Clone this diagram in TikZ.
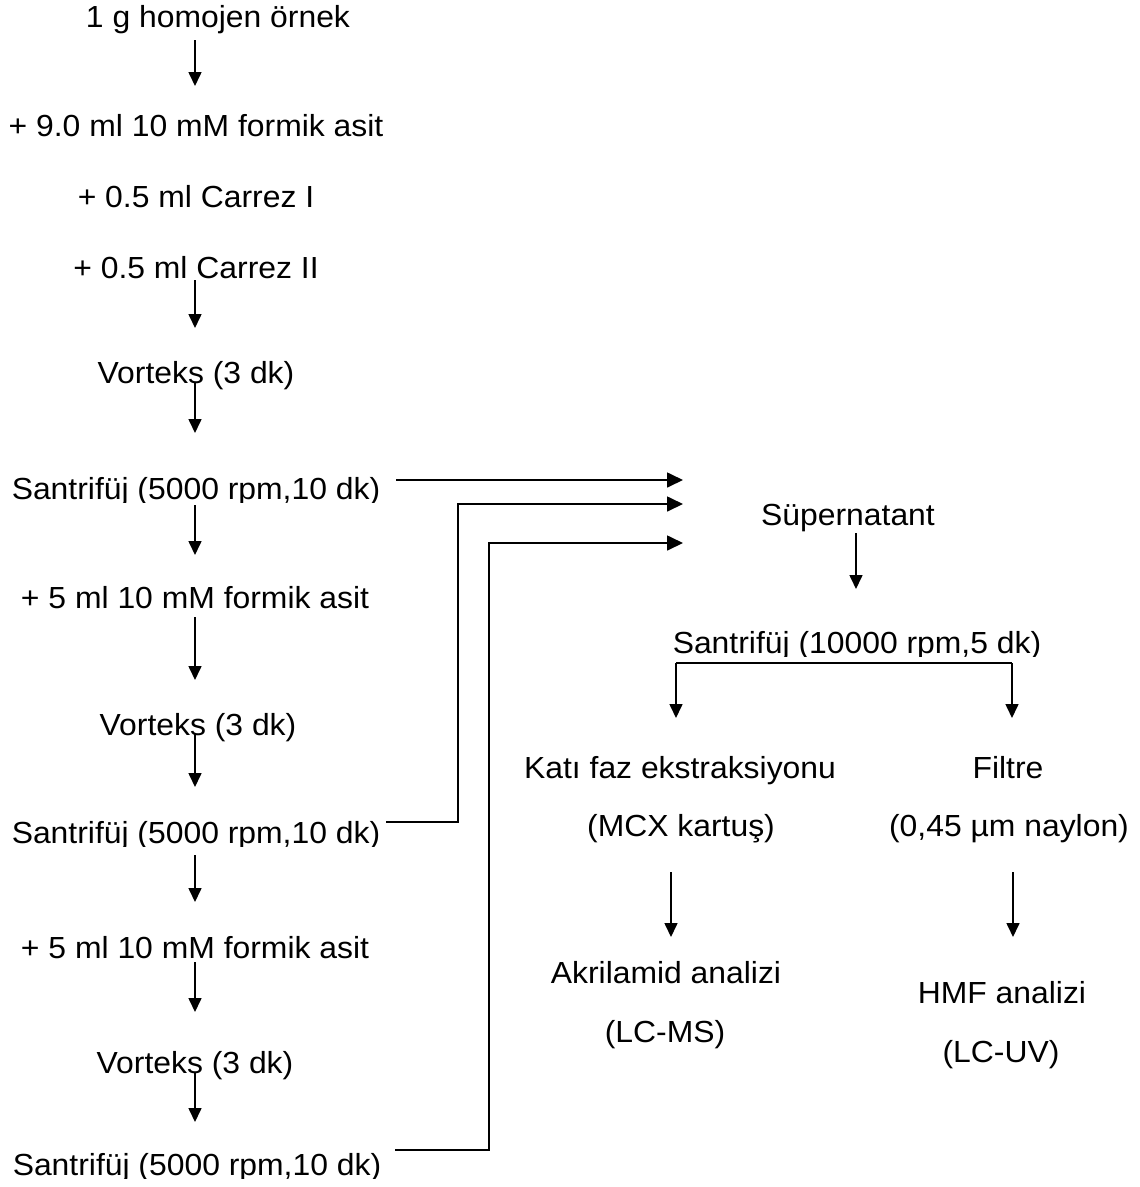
\documentclass[tikz,border=0pt]{standalone}
\usepackage{fontspec}
\setmainfont[FakeStretch=1.045]{Liberation Sans}
\usetikzlibrary{arrows.meta}
\begin{document}
\begin{tikzpicture}[x=1pt,y=-1pt,
  lbl/.style={anchor=base,inner sep=0pt,font=\fontsize{30.5}{36}\selectfont},
  arr/.style={line width=1.6pt,-{Triangle[length=14pt,width=13pt]}},
  conn/.style={line width=1.7pt,line join=miter,-{Triangle[length=16pt,width=15pt]}},
  plain/.style={line width=1.4pt}]
\useasboundingbox (0,0) rectangle (1140,1187);

% left column
\node[lbl] (n1)  at (218,27)   {1 g homojen örnek};
\node[lbl] (n2)  at (196,136)  {+ 9.0 ml 10 mM formik asit};
\node[lbl] (n3)  at (196,207)  {+ 0.5 ml Carrez I};
\node[lbl] (n4)  at (196,278)  {+ 0.5 ml Carrez II};
\node[lbl] (n5)  at (196,383)  {Vorteks (3 dk)};
\begin{scope}\clip (0,440) rectangle (1140,502);
\node[lbl] (s1)  at (196,499)  {Santrifüj (5000 rpm,10 dk)};
\end{scope}
\node[lbl] (n7)  at (195,608)  {+ 5 ml 10 mM formik asit};
\node[lbl] (n8)  at (198,735)  {Vorteks (3 dk)};
\begin{scope}\clip (0,790) rectangle (1140,846);
\node[lbl] (s2)  at (196,843)  {Santrifüj (5000 rpm,10 dk)};
\end{scope}
\node[lbl] (n10) at (195,958)  {+ 5 ml 10 mM formik asit};
\node[lbl] (n11) at (195,1073) {Vorteks (3 dk)};
\begin{scope}\clip (0,1130) rectangle (1140,1178);
\node[lbl] (s3)  at (197,1175) {Santrifüj (5000 rpm,10 dk)};
\end{scope}

\foreach \i/\ya/\yb in {1/40/86, 2/280/328, 3/383/433, 4/505/555, 5/617/680,
                        6/733/787, 7/855/902, 8/962/1012, 9/1073/1122} {
  \coordinate (t\i) at (195,\ya);
  \coordinate (h\i) at (195,\yb);
  \draw[arr] (t\i) -- (h\i);
}

% connectors to the right column
\coordinate (c1a) at (396,480);  \coordinate (c1b) at (683,480);
\coordinate (c2a) at (386,822);  \coordinate (c2k) at (458,822);
\coordinate (c2l) at (458,504);  \coordinate (c2b) at (683,504);
\coordinate (c3a) at (395,1150); \coordinate (c3k) at (489,1150);
\coordinate (c3l) at (489,543);  \coordinate (c3b) at (683,543);
\draw[conn] (c1a) -- (c1b);
\draw[conn] (c2a) -- (c2k) -- (c2l) -- (c2b);
\draw[conn] (c3a) -- (c3k) -- (c3l) -- (c3b);

% right column
\node[lbl] (sup) at (848,525) {Süpernatant};
\coordinate (sa) at (856,533); \coordinate (sb) at (856,589);
\draw[arr] (sa) -- (sb);

\begin{scope}\clip (600,600) rectangle (1140,656);
\node[lbl] (s4) at (857,653) {Santrifüj (10000 rpm,5 dk)};
\end{scope}
\coordinate (bl) at (676,663); \coordinate (br) at (1012,663);
\coordinate (blh) at (676,718); \coordinate (brh) at (1012,718);
\draw[plain] (bl) -- (br);
\draw[arr] (bl) -- (blh);
\draw[arr] (br) -- (brh);

\node[lbl] (k1) at (680,778)  {Katı faz ekstraksiyonu};
\node[lbl] (k2) at (681,836)  {(MCX kartuş)};
\node[lbl] (f1) at (1008,778) {Filtre};
\node[lbl] (f2) at (1009,836) {(0,45 µm naylon)};

\coordinate (la) at (671,872);  \coordinate (lb) at (671,937);
\coordinate (ra) at (1013,872); \coordinate (rb) at (1013,937);
\draw[arr] (la) -- (lb);
\draw[arr] (ra) -- (rb);

\node[lbl] (a1) at (666,983)  {Akrilamid analizi};
\node[lbl] (a2) at (665,1042) {(LC-MS)};
\node[lbl] (h1) at (1002,1003) {HMF analizi};
\node[lbl] (h2) at (1001,1062) {(LC-UV)};
\end{tikzpicture}
\end{document}
